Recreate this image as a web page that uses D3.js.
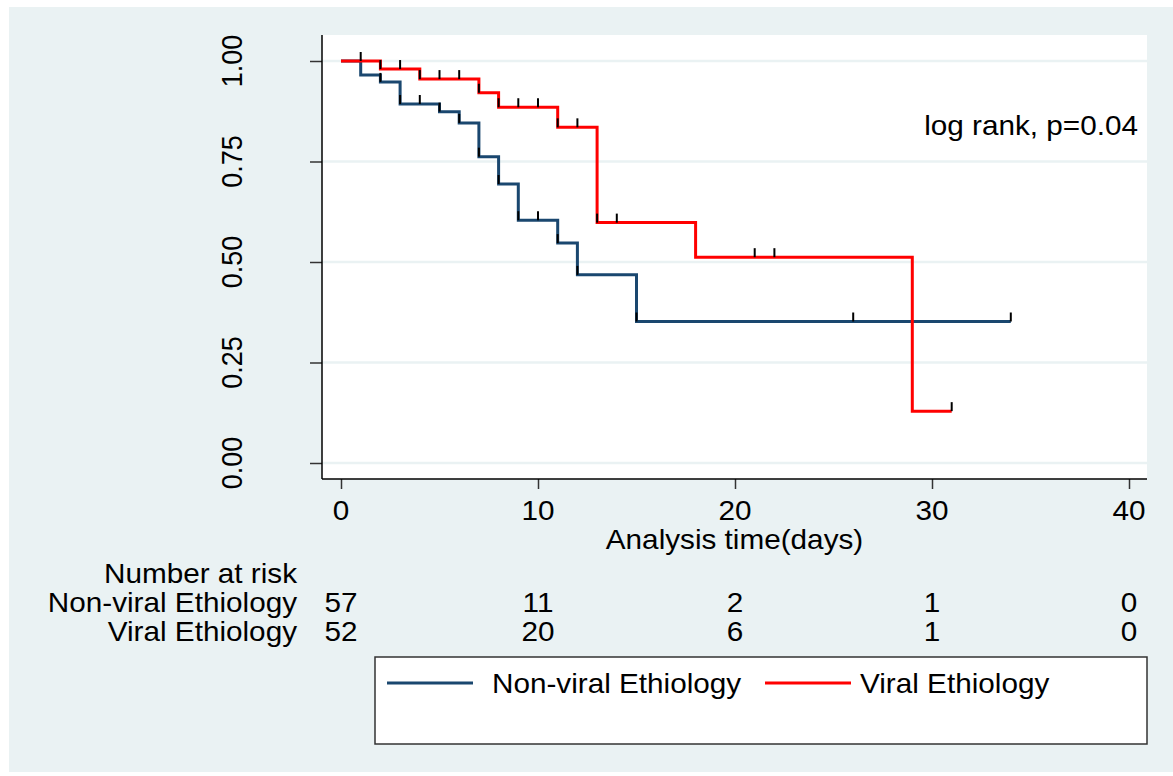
<!DOCTYPE html>
<html><head><meta charset="utf-8">
<script src="https://cdn.jsdelivr.net/npm/d3@7"></script>
<style>
body{margin:0;background:#fff}
svg{display:block}
text{font-family:"Liberation Sans",Arial,Helvetica,sans-serif;fill:#000}
</style>
</head><body>
<svg id="c" width="1173" height="776"></svg>
<script>
// ---------- data ----------
const timeTicks = [0, 10, 20, 30, 40];
const survTicks = [0, 0.25, 0.5, 0.75, 1];
const groups = ["Non-viral Ethiology", "Viral Ethiology"];
const nonViralTimes = [0, 1, 2, 3, 5, 6, 7, 8, 9, 11, 12, 15];
const nonViralSurv  = [1, 0.965, 0.948, 0.893, 0.874, 0.846, 0.762, 0.694, 0.604, 0.547, 0.468, 0.352];
const nonViralEnd = 34;
const nonViralCensored = [2, 3, 4, 5, 6, 7, 8, 9, 10, 11, 12, 15, 26, 34];
const viralTimes = [0, 2, 4, 7, 8, 11, 13, 18, 29];
const viralSurv  = [1, 0.980, 0.955, 0.921, 0.885, 0.835, 0.598, 0.512, 0.129];
const viralEnd = 31;
const viralCensored = [1, 2, 3, 4, 5, 6, 7, 8, 9, 10, 11, 12, 13, 14, 21, 22, 31];
const riskTimes = [0, 10, 20, 30, 40];
const riskNonViral = [57, 11, 2, 1, 0];
const riskViral = [52, 20, 6, 1, 0];
const annotation = "log rank, p=0.04";
const xTitle = "Analysis time(days)";
const riskTitle = "Number at risk";

// ---------- layout ----------
const SX = 1.1;          // horizontal text stretch
const FS = 27;           // font size
const colors = ["#1a476f", "#ff0000"];
const plot = {l: 322, r: 1147, t: 35, b: 479};

const svg = d3.select("#c");
svg.append("rect").attr("x", 9).attr("y", 7).attr("width", 1164).attr("height", 765).attr("fill", "#eaf2f3");
svg.append("rect").attr("x", plot.l).attr("y", plot.t).attr("width", plot.r - plot.l).attr("height", plot.b - plot.t).attr("fill", "#fff");

const x = d3.scaleLinear().domain([0, 40]).range([341, 1129]);
const y = d3.scaleLinear().domain([0, 1]).range([463, 61]);

function txt(g, px, py, s, anchor, extra) {
  return g.append("text")
    .attr("transform", `translate(${px},${py}) scale(${SX},1)` + (extra || ""))
    .attr("text-anchor", anchor)
    .style("font-size", FS + "px")
    .text(s);
}

// grid
svg.append("g").selectAll("line").data(survTicks).join("line")
  .attr("x1", plot.l).attr("x2", plot.r)
  .attr("y1", d => y(d)).attr("y2", d => y(d))
  .attr("stroke", "#eaf2f3").attr("stroke-width", 2.5);

// y axis
const yAx = svg.append("g").attr("transform", `translate(${plot.l},0)`)
  .call(d3.axisLeft(y).tickValues(survTicks).tickSize(12).tickFormat(d3.format(".2f")));
yAx.select(".domain").remove();
yAx.selectAll(".tick line").attr("stroke", "#333").attr("stroke-width", 1.5);
yAx.selectAll(".tick text").remove();
survTicks.forEach(v => {
  txt(svg, 242, y(v), d3.format(".2f")(v), "middle", " rotate(-90)");
});
svg.append("line").attr("x1", plot.l).attr("x2", plot.l).attr("y1", plot.t).attr("y2", plot.b)
  .attr("stroke", "#000").attr("stroke-width", 1.5);

// x axis
const xAx = svg.append("g").attr("transform", `translate(0,${plot.b})`)
  .call(d3.axisBottom(x).tickValues(timeTicks).tickSize(10));
xAx.select(".domain").remove();
xAx.selectAll(".tick line").attr("stroke", "#333").attr("stroke-width", 1.5);
xAx.selectAll(".tick text").remove();
timeTicks.forEach(v => txt(svg, x(v), 520, String(v), "middle"));
svg.append("line").attr("x1", plot.l).attr("x2", plot.r).attr("y1", plot.b).attr("y2", plot.b)
  .attr("stroke", "#000").attr("stroke-width", 1.5);
txt(svg, (plot.l + plot.r) / 2, 549, xTitle, "middle");

// curves
const series = [
  {times: nonViralTimes, surv: nonViralSurv, end: nonViralEnd, cens: nonViralCensored},
  {times: viralTimes, surv: viralSurv, end: viralEnd, cens: viralCensored}
];
function S(s, t) {
  let v = s.surv[0];
  s.times.forEach((tt, i) => { if (tt <= t) v = s.surv[i]; });
  return v;
}
const line = d3.line().x(d => x(d[0])).y(d => y(d[1])).curve(d3.curveStepAfter);
series.forEach((s, k) => {
  const pts = s.times.map((t, i) => [t, s.surv[i]]);
  pts.push([s.end, s.surv[s.surv.length - 1]]);
  svg.append("path").attr("d", line(pts)).attr("fill", "none")
    .attr("stroke", colors[k]).attr("stroke-width", 3);
});
series.forEach((s, k) => {
  svg.append("g").selectAll("line").data(s.cens).join("line")
    .attr("x1", d => x(d)).attr("x2", d => x(d))
    .attr("y1", d => y(S(s, d))).attr("y2", d => y(S(s, d)) - 9)
    .attr("stroke", "#000").attr("stroke-width", 2);
});

// annotation
txt(svg, 1138, 135, annotation, "end");

// risk table
txt(svg, 297, 583, riskTitle, "end");
txt(svg, 297, 612, groups[0], "end");
txt(svg, 297, 641, groups[1], "end");
riskTimes.forEach((t, i) => {
  txt(svg, x(t), 612, String(riskNonViral[i]), "middle");
  txt(svg, x(t), 641, String(riskViral[i]), "middle");
});

// legend
svg.append("rect").attr("x", 375).attr("y", 657).attr("width", 772).attr("height", 87)
  .attr("fill", "#fff").attr("stroke", "#333").attr("stroke-width", 1.5);
const leg = [{x1: 387, x2: 473, tx: 492}, {x1: 765, x2: 851, tx: 860}];
leg.forEach((l, k) => {
  svg.append("line").attr("x1", l.x1).attr("x2", l.x2).attr("y1", 683).attr("y2", 683)
    .attr("stroke", colors[k]).attr("stroke-width", 3);
  txt(svg, l.tx, 693, groups[k], "start");
});
</script>
</body></html>
